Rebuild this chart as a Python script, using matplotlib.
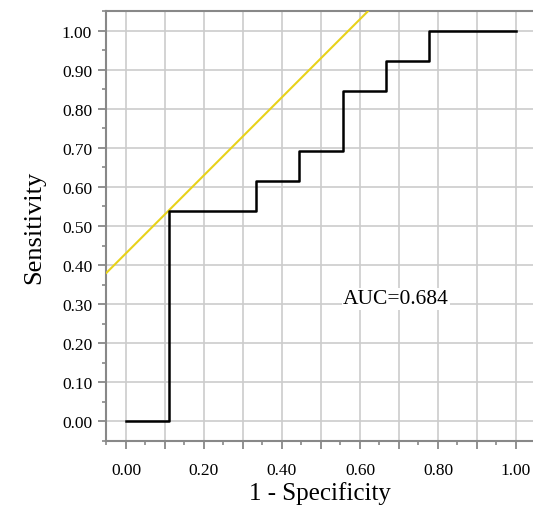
import numpy as np
import matplotlib.pyplot as plt
from matplotlib.ticker import MultipleLocator

# ROC step curve (1 - specificity, sensitivity)
fpr = [0.0, 0.111, 0.111, 0.333, 0.333, 0.444, 0.444, 0.556, 0.556, 0.667, 0.667, 0.778, 0.778, 1.0]
tpr = [0.0, 0.0, 0.538, 0.538, 0.615, 0.615, 0.692, 0.692, 0.846, 0.846, 0.923, 0.923, 1.0, 1.0]
# yellow reference line end points
ref_x = [-0.05, 0.62]
ref_y = [0.38, 1.05]
auc_label = "AUC=0.684"
xtick_vals = [0.0, 0.1, 0.2, 0.3, 0.4, 0.5, 0.6, 0.7, 0.8, 0.9, 1.0]
xtick_labels = ["0.00", "", "0.20", "", "0.40", "", "0.60", "", "0.80", "", "1.00"]
ytick_vals = [0.0, 0.1, 0.2, 0.3, 0.4, 0.5, 0.6, 0.7, 0.8, 0.9, 1.0]

plt.rcParams['font.family'] = ['Liberation Serif', 'DejaVu Serif']

fig = plt.figure(figsize=(5.33, 5.06), dpi=100)
ax = fig.add_axes([0.199, 0.1265, 0.801, 0.8498])

ax.plot(ref_x, ref_y, color='#e8d21a', lw=1.5, zorder=3)
ax.plot(fpr, tpr, color='black', lw=1.8, zorder=4)

ax.set_xlim(-0.051, 1.0436)
ax.set_ylim(-0.051, 1.051)

ax.xaxis.set_minor_locator(MultipleLocator(0.05))
ax.yaxis.set_minor_locator(MultipleLocator(0.05))
ax.set_xticks(xtick_vals)
ax.set_xticklabels(xtick_labels)
ax.set_yticks(ytick_vals)
ax.set_yticklabels(["%.2f" % v for v in ytick_vals])

ax.grid(True, which='major', color='#cccccc', lw=1.2, zorder=0)
ax.set_axisbelow(True)

for s in ['left', 'bottom', 'top']:
    ax.spines[s].set_color('#888888')
    ax.spines[s].set_linewidth(1.5)
ax.spines['right'].set_visible(False)

ax.tick_params(which='major', direction='out', length=6, width=1.3, color='#888888',
               labelsize=12.5, pad=4)
ax.tick_params(which='minor', direction='out', length=3, width=1.2, color='#888888')
ax.tick_params(axis='x', pad=9)

ax.set_xlabel("1 - Specificity", fontsize=18, labelpad=2)
ax.set_ylabel("Sensitivity", fontsize=19, labelpad=12)

ax.text(0.556, 0.313, auc_label, fontsize=15.5, va='center', ha='left', zorder=5,
        bbox=dict(facecolor='white', edgecolor='none', pad=1))

fig.savefig("out.png", dpi=100)
